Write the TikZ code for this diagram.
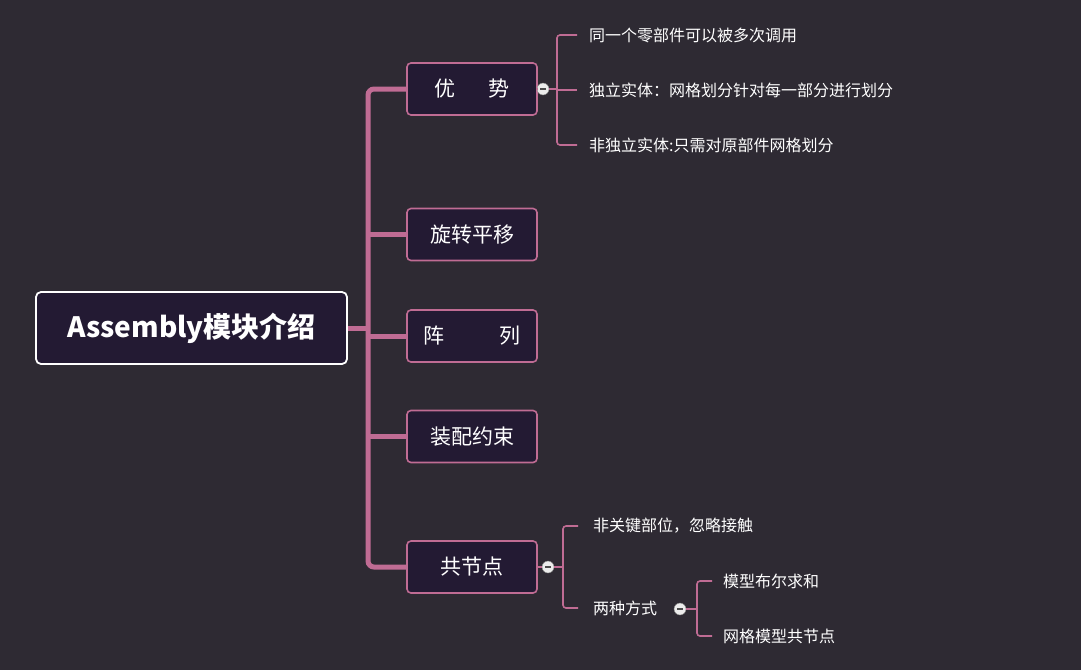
\documentclass[tikz,border=0pt]{standalone}
\usepackage{fontspec}
\setmainfont{Noto Sans CJK SC}
\definecolor{bg}{HTML}{2E2A33}
\definecolor{box}{HTML}{231A33}
\definecolor{pk}{HTML}{C06C94}
\begin{document}
\begin{tikzpicture}[x=1pt,y=-1pt,
 br/.style={draw=pk,line width=1.6pt,fill=box,rounded corners=4pt,minimum width=130pt,minimum height=52pt,text=white,font=\fontsize{21}{24}\selectfont},
 lf/.style={text=white,anchor=west,font=\fontsize{16}{18}\selectfont,inner sep=0pt},
 tr/.style={pk,line width=5pt,rounded corners=6pt},
 th/.style={pk,line width=1.6pt},
 cl/.style={circle,draw=gray,fill=white!85!gray,minimum size=12pt,inner sep=0pt,path picture={\draw[black!70,line width=1.2pt](path picture bounding box.west)++(3pt,0)--++(6pt,0);}}]
\fill[bg] (0,0) rectangle (1081,670);
\node[draw=white,line width=1.8pt,fill=box,rounded corners=5pt,minimum width=311pt,minimum height=72pt,text=white,font=\bfseries\fontsize{28}{30}\selectfont] (root) at (191.5,328) {Assembly模块介绍};
\node[br] (a) at (472,89) {优\hspace{1.6em}势};
\node[br] (b) at (472,234.5) {旋转平移};
\node[br] (c) at (472,336) {阵\hspace{2.6em}列};
\node[br] (d) at (472,436.5) {装配约束};
\node[br] (e) at (472,567) {共节点};
\coordinate (t0) at (368,328);
\draw[tr] (root.east) -- (t0);
\draw[tr] (a.west) -- (368,89) -- (368,567) -- (e.west);
\draw[tr] (368,234.5) -- (b.west);
\draw[tr] (368,336) -- (c.west);
\draw[tr] (368,436.5) -- (d.west);
% advantages
\node[cl] (ca) at (543,89) {};
\node[lf] (a1) at (589,35) {同一个零部件可以被多次调用};
\node[lf] (a2) at (589,90) {独立实体：网格划分针对每一部分进行划分};
\node[lf] (a3) at (589,145) {非独立实体:只需对原部件网格划分};
\draw[th] (a.east) -- (ca.west);
\draw[th] (ca.east) -- (557,89);
\draw[th,rounded corners=3pt] (577,35) -- (557,35) -- (557,145) -- (577,145);
\draw[th] (557,90) -- (577,90);
% common nodes
\node[cl] (ce) at (548,567) {};
\node[lf] (e1) at (593,526) {非关键部位，忽略接触};
\node[lf] (e2) at (593,608) {两种方式};
\draw[th] (e.east) -- (ce.west);
\draw[th] (ce.east) -- (563,567);
\draw[th,rounded corners=3pt] (578,526) -- (563,526) -- (563,608) -- (578,608);
\node[cl] (cf) at (680,609) {};
\node[lf] (f1) at (723,581) {模型布尔求和};
\node[lf] (f2) at (723,636) {网格模型共节点};
\draw[th] (cf.east) -- (697,609);
\draw[th,rounded corners=3pt] (712,581) -- (697,581) -- (697,636) -- (712,636);
\end{tikzpicture}
\end{document}
